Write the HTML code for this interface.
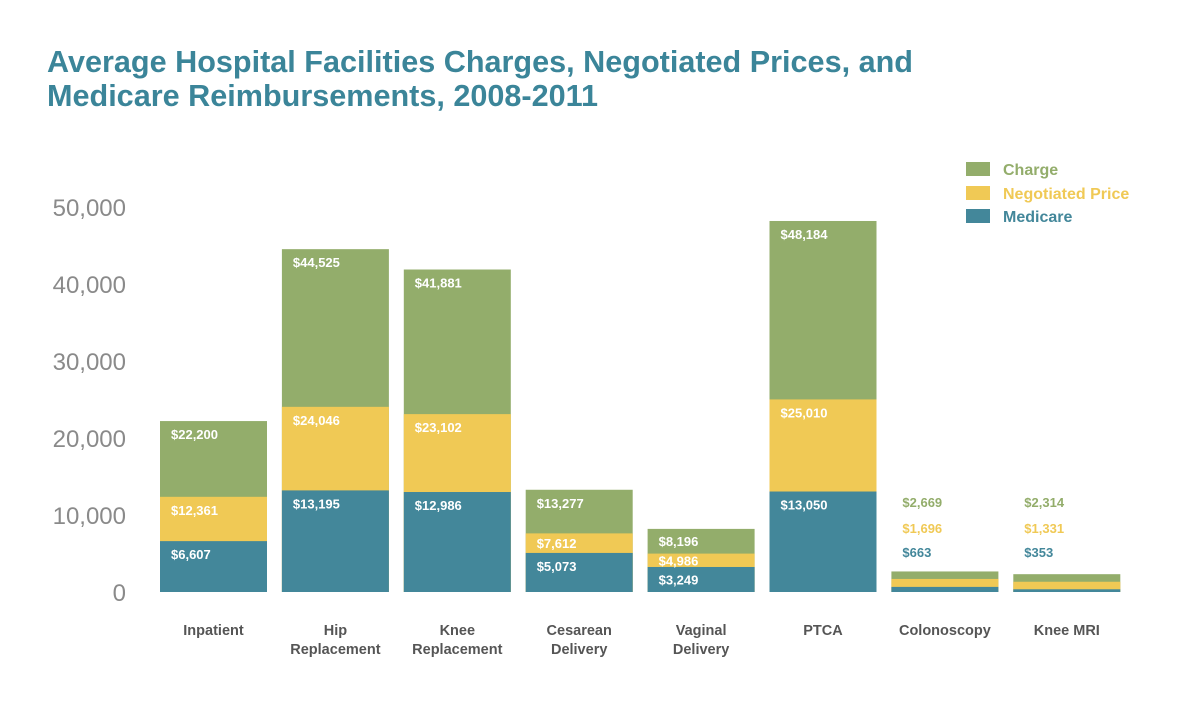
<!DOCTYPE html>
<html><head><meta charset="utf-8"><style>
body{margin:0;background:#fff;font-family:"Liberation Sans",sans-serif;}
svg text{font-family:"Liberation Sans",sans-serif;}
</style></head><body>
<svg id="chart" width="1200" height="717">
<text x="47" y="72" font-size="30.6" font-weight="bold" fill="#3b8599">Average Hospital Facilities Charges, Negotiated Prices, and</text>
<text x="47" y="106" font-size="30.6" font-weight="bold" fill="#3b8599">Medicare Reimbursements, 2008-2011</text>
<g id="legend">
<rect x="966" y="162" width="24" height="14" fill="#93ad6b"/>
<text x="1003" y="175" font-size="16" font-weight="bold" fill="#93ad6b">Charge</text>
<rect x="966" y="186" width="24" height="14" fill="#f0c955"/>
<text x="1003" y="199" font-size="16" font-weight="bold" fill="#f0c955">Negotiated Price</text>
<rect x="966" y="209" width="24" height="14" fill="#43879a"/>
<text x="1003" y="222" font-size="16" font-weight="bold" fill="#43879a">Medicare</text>
</g>
<g id="axis"></g><g id="bars"></g>
</svg>
<script>
const categories=[["Inpatient"],["Hip","Replacement"],["Knee","Replacement"],["Cesarean","Delivery"],["Vaginal","Delivery"],["PTCA"],["Colonoscopy"],["Knee MRI"]];
const charge=[22200,44525,41881,13277,8196,48184,2669,2314];
const negotiated=[12361,24046,23102,7612,4986,25010,1696,1331];
const medicare=[6607,13195,12986,5073,3249,13050,663,353];
const ticks=[0,10000,20000,30000,40000,50000];
const NS="http://www.w3.org/2000/svg";
const y=v=>592-v*0.0077;
const x=i=>160+i*121.9;
const bw=107;
const fmt=v=>"$"+v.toLocaleString("en-US");
function mk(tag,attrs,parent,text){const e=document.createElementNS(NS,tag);for(const k in attrs)e.setAttribute(k,attrs[k]);if(text!==undefined)e.textContent=text;parent.appendChild(e);return e;}
const ax=document.getElementById("axis"),bars=document.getElementById("bars");
ticks.forEach(t=>{const e=mk("text",{x:126,y:y(t)+9,"font-size":24,fill:"#8a8a8a","text-anchor":"end"},ax,t.toLocaleString("en-US"));

});
const series=[[charge,"#93ad6b","charge"],[negotiated,"#f0c955","negotiated"],[medicare,"#43879a","medicare"]];
categories.forEach((c,i)=>{
 series.forEach(([arr,col,nm])=>{const r=mk("rect",{x:x(i),y:y(arr[i]),width:bw,height:592-y(arr[i]),fill:col},bars);
 
 });
 const small=charge[i]<5000;
 series.forEach(([arr,col,nm],k)=>{
  const top=y(arr[i]);const below=k<2?y(series[k+1][0][i]):592;
  let ty;
  if(small){ty=[507,533,557][k];}
  else{ty=top+Math.min(18,(below-top)/2+5);}
  const t=mk("text",{x:x(i)+11,y:ty,"font-size":13,"font-weight":"bold",fill:small?col:"#fff"},bars,fmt(arr[i]));
  
  
 });
 c.forEach((ln,j)=>{const t=mk("text",{x:x(i)+bw/2,y:635+j*19,"font-size":14.5,"font-weight":"bold",fill:"#555","text-anchor":"middle"},ax,ln);
 
 });
});
</script>
</body></html>
